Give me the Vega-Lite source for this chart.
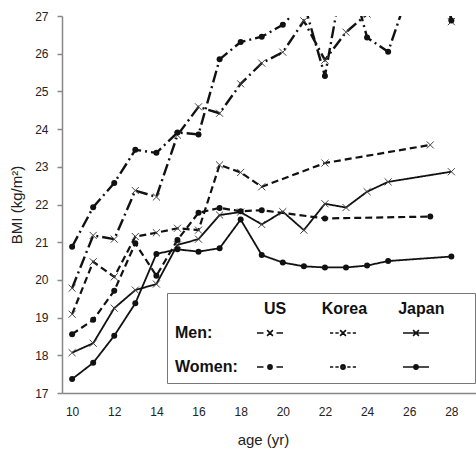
{
 "$schema": "https://vega.github.io/schema/vega-lite/v6.json",
 "autosize": "none",
 "padding": {"left": 62, "top": 16, "right": 0, "bottom": 61},
 "width": 414,
 "height": 377,
 "background": "white",
 "config": {"font": "Liberation Sans", "view": {"stroke": null}},
 "data": {"values": [
  {"age":10,"bmi":19.78,"series":"US Men","country":"US","sex":"Men"},
  {"age":11,"bmi":21.18,"series":"US Men","country":"US","sex":"Men"},
  {"age":12,"bmi":21.08,"series":"US Men","country":"US","sex":"Men"},
  {"age":13,"bmi":22.37,"series":"US Men","country":"US","sex":"Men"},
  {"age":14,"bmi":22.2,"series":"US Men","country":"US","sex":"Men"},
  {"age":15,"bmi":23.84,"series":"US Men","country":"US","sex":"Men"},
  {"age":16,"bmi":24.59,"series":"US Men","country":"US","sex":"Men"},
  {"age":17,"bmi":24.42,"series":"US Men","country":"US","sex":"Men"},
  {"age":18,"bmi":25.2,"series":"US Men","country":"US","sex":"Men"},
  {"age":19,"bmi":25.75,"series":"US Men","country":"US","sex":"Men"},
  {"age":20,"bmi":26.04,"series":"US Men","country":"US","sex":"Men"},
  {"age":21,"bmi":26.87,"series":"US Men","country":"US","sex":"Men"},
  {"age":22,"bmi":25.83,"series":"US Men","country":"US","sex":"Men"},
  {"age":23,"bmi":26.57,"series":"US Men","country":"US","sex":"Men"},
  {"age":24,"bmi":27.05,"series":"US Men","country":"US","sex":"Men"},
  {"age":25,"bmi":27.6,"series":"US Men","country":"US","sex":"Men"},
  {"age":26,"bmi":28.0,"series":"US Men","country":"US","sex":"Men"},
  {"age":27,"bmi":30.5,"series":"US Men","country":"US","sex":"Men"},
  {"age":28,"bmi":26.85,"series":"US Men","country":"US","sex":"Men"},
  {"age":10,"bmi":20.88,"series":"US Women","country":"US","sex":"Women"},
  {"age":11,"bmi":21.93,"series":"US Women","country":"US","sex":"Women"},
  {"age":12,"bmi":22.57,"series":"US Women","country":"US","sex":"Women"},
  {"age":13,"bmi":23.45,"series":"US Women","country":"US","sex":"Women"},
  {"age":14,"bmi":23.37,"series":"US Women","country":"US","sex":"Women"},
  {"age":15,"bmi":23.91,"series":"US Women","country":"US","sex":"Women"},
  {"age":16,"bmi":23.86,"series":"US Women","country":"US","sex":"Women"},
  {"age":17,"bmi":25.85,"series":"US Women","country":"US","sex":"Women"},
  {"age":18,"bmi":26.31,"series":"US Women","country":"US","sex":"Women"},
  {"age":19,"bmi":26.45,"series":"US Women","country":"US","sex":"Women"},
  {"age":20,"bmi":26.77,"series":"US Women","country":"US","sex":"Women"},
  {"age":21,"bmi":27.35,"series":"US Women","country":"US","sex":"Women"},
  {"age":22,"bmi":25.41,"series":"US Women","country":"US","sex":"Women"},
  {"age":23,"bmi":28.5,"series":"US Women","country":"US","sex":"Women"},
  {"age":24,"bmi":26.43,"series":"US Women","country":"US","sex":"Women"},
  {"age":25,"bmi":26.05,"series":"US Women","country":"US","sex":"Women"},
  {"age":26,"bmi":27.7,"series":"US Women","country":"US","sex":"Women"},
  {"age":27,"bmi":31.0,"series":"US Women","country":"US","sex":"Women"},
  {"age":28,"bmi":26.88,"series":"US Women","country":"US","sex":"Women"},
  {"age":10,"bmi":19.09,"series":"Korea Men","country":"Korea","sex":"Men"},
  {"age":11,"bmi":20.48,"series":"Korea Men","country":"Korea","sex":"Men"},
  {"age":12,"bmi":20.08,"series":"Korea Men","country":"Korea","sex":"Men"},
  {"age":13,"bmi":21.15,"series":"Korea Men","country":"Korea","sex":"Men"},
  {"age":14,"bmi":21.25,"series":"Korea Men","country":"Korea","sex":"Men"},
  {"age":15,"bmi":21.37,"series":"Korea Men","country":"Korea","sex":"Men"},
  {"age":16,"bmi":21.32,"series":"Korea Men","country":"Korea","sex":"Men"},
  {"age":17,"bmi":23.05,"series":"Korea Men","country":"Korea","sex":"Men"},
  {"age":18,"bmi":22.85,"series":"Korea Men","country":"Korea","sex":"Men"},
  {"age":19,"bmi":22.47,"series":"Korea Men","country":"Korea","sex":"Men"},
  {"age":22,"bmi":23.1,"series":"Korea Men","country":"Korea","sex":"Men"},
  {"age":27,"bmi":23.58,"series":"Korea Men","country":"Korea","sex":"Men"},
  {"age":10,"bmi":18.56,"series":"Korea Women","country":"Korea","sex":"Women"},
  {"age":11,"bmi":18.94,"series":"Korea Women","country":"Korea","sex":"Women"},
  {"age":12,"bmi":19.71,"series":"Korea Women","country":"Korea","sex":"Women"},
  {"age":13,"bmi":20.97,"series":"Korea Women","country":"Korea","sex":"Women"},
  {"age":14,"bmi":20.11,"series":"Korea Women","country":"Korea","sex":"Women"},
  {"age":15,"bmi":21.06,"series":"Korea Women","country":"Korea","sex":"Women"},
  {"age":16,"bmi":21.78,"series":"Korea Women","country":"Korea","sex":"Women"},
  {"age":17,"bmi":21.91,"series":"Korea Women","country":"Korea","sex":"Women"},
  {"age":18,"bmi":21.82,"series":"Korea Women","country":"Korea","sex":"Women"},
  {"age":19,"bmi":21.85,"series":"Korea Women","country":"Korea","sex":"Women"},
  {"age":22,"bmi":21.63,"series":"Korea Women","country":"Korea","sex":"Women"},
  {"age":27,"bmi":21.68,"series":"Korea Women","country":"Korea","sex":"Women"},
  {"age":10,"bmi":18.07,"series":"Japan Men","country":"Japan","sex":"Men"},
  {"age":11,"bmi":18.32,"series":"Japan Men","country":"Japan","sex":"Men"},
  {"age":12,"bmi":19.25,"series":"Japan Men","country":"Japan","sex":"Men"},
  {"age":13,"bmi":19.73,"series":"Japan Men","country":"Japan","sex":"Men"},
  {"age":14,"bmi":19.89,"series":"Japan Men","country":"Japan","sex":"Men"},
  {"age":15,"bmi":20.93,"series":"Japan Men","country":"Japan","sex":"Men"},
  {"age":16,"bmi":21.08,"series":"Japan Men","country":"Japan","sex":"Men"},
  {"age":17,"bmi":21.72,"series":"Japan Men","country":"Japan","sex":"Men"},
  {"age":18,"bmi":21.8,"series":"Japan Men","country":"Japan","sex":"Men"},
  {"age":19,"bmi":21.47,"series":"Japan Men","country":"Japan","sex":"Men"},
  {"age":20,"bmi":21.81,"series":"Japan Men","country":"Japan","sex":"Men"},
  {"age":21,"bmi":21.32,"series":"Japan Men","country":"Japan","sex":"Men"},
  {"age":22,"bmi":22.02,"series":"Japan Men","country":"Japan","sex":"Men"},
  {"age":23,"bmi":21.92,"series":"Japan Men","country":"Japan","sex":"Men"},
  {"age":24,"bmi":22.34,"series":"Japan Men","country":"Japan","sex":"Men"},
  {"age":25,"bmi":22.6,"series":"Japan Men","country":"Japan","sex":"Men"},
  {"age":28,"bmi":22.87,"series":"Japan Men","country":"Japan","sex":"Men"},
  {"age":10,"bmi":17.37,"series":"Japan Women","country":"Japan","sex":"Women"},
  {"age":11,"bmi":17.8,"series":"Japan Women","country":"Japan","sex":"Women"},
  {"age":12,"bmi":18.52,"series":"Japan Women","country":"Japan","sex":"Women"},
  {"age":13,"bmi":19.38,"series":"Japan Women","country":"Japan","sex":"Women"},
  {"age":14,"bmi":20.69,"series":"Japan Women","country":"Japan","sex":"Women"},
  {"age":15,"bmi":20.81,"series":"Japan Women","country":"Japan","sex":"Women"},
  {"age":16,"bmi":20.75,"series":"Japan Women","country":"Japan","sex":"Women"},
  {"age":17,"bmi":20.84,"series":"Japan Women","country":"Japan","sex":"Women"},
  {"age":18,"bmi":21.6,"series":"Japan Women","country":"Japan","sex":"Women"},
  {"age":19,"bmi":20.66,"series":"Japan Women","country":"Japan","sex":"Women"},
  {"age":20,"bmi":20.46,"series":"Japan Women","country":"Japan","sex":"Women"},
  {"age":21,"bmi":20.36,"series":"Japan Women","country":"Japan","sex":"Women"},
  {"age":22,"bmi":20.33,"series":"Japan Women","country":"Japan","sex":"Women"},
  {"age":23,"bmi":20.33,"series":"Japan Women","country":"Japan","sex":"Women"},
  {"age":24,"bmi":20.38,"series":"Japan Women","country":"Japan","sex":"Women"},
  {"age":25,"bmi":20.5,"series":"Japan Women","country":"Japan","sex":"Women"},
  {"age":28,"bmi":20.62,"series":"Japan Women","country":"Japan","sex":"Women"}
 ]},
 "encoding": {
  "x": {"field": "age", "type": "quantitative",
   "scale": {"domain": [9.52, 29.17], "nice": false, "zero": false},
   "axis": {"values": [10,12,14,16,18,20,22,24,26,28], "ticks": false, "tickSize": 0, "grid": false,
    "domainColor": "#888", "domainWidth": 1.5, "labelFontSize": 12, "labelColor": "#222", "labelPadding": 13,
    "title": "age (yr)", "titleFontSize": 15, "titleFontWeight": "normal", "titleColor": "#222", "titlePadding": 15, "titleX": 201}},
  "y": {"field": "bmi", "type": "quantitative",
   "scale": {"domain": [17, 27], "nice": false, "zero": false},
   "axis": {"values": [17,18,19,20,21,22,23,24,25,26,27], "format": "d", "tickSize": 5, "tickColor": "#888", "tickWidth": 1.5,
    "domainColor": "#888", "domainWidth": 1.5, "labelFontSize": 12, "labelColor": "#222", "labelPadding": 9, "grid": false,
    "title": "BMI (kg/m²)", "titleFontSize": 15, "titleFontWeight": "normal", "titleColor": "#222", "titlePadding": 10}}
 },
 "layer": [
  {"mark": {"type": "line", "clip": true, "color": "#111"},
   "encoding": {
    "strokeDash": {"field": "series", "type": "nominal",
     "scale": {"domain": ["US Men", "Korea Men", "Japan Men", "US Women", "Korea Women", "Japan Women"],
      "range": [[12,4,2,4], [7,4], [1,0], [12,4,2,4], [7,4], [1,0]]},
     "legend": null},
    "strokeWidth": {"field": "country", "type": "ordinal",
     "scale": {"type": "ordinal", "domain": ["US", "Korea", "Japan"], "range": [2.4, 2.2, 1.8]}, "legend": null}
   }},
  {"transform": [{"filter": "datum.sex == 'Men'"}],
   "mark": {"type": "point", "clip": true, "shape": "M-1,-1L1,1M-1,1L1,-1", "size": 50, "filled": false, "color": "#444", "strokeWidth": 1, "opacity": 1}},
  {"transform": [{"filter": "datum.sex == 'Women'"}],
   "mark": {"type": "point", "clip": true, "shape": "circle", "size": 36, "filled": true, "color": "#111", "opacity": 1}},
  {"transform": [{"filter": "false"}],
   "mark": {"type": "point", "filled": false, "color": "#111", "opacity": 1, "strokeWidth": 1.6},
   "encoding": {
    "shape": {"field": "series", "type": "nominal",
     "scale": {"domain": ["Men:", "US Men", "Korea Men", "Japan Men", "Women:", "US Women", "Korea Women", "Japan Women"],
      "range": [
       "M0,0",
       "M-6.5,0L-3.25,0M3.25,0L6.5,0M-1.45,-1.45L1.45,1.45M-1.45,1.45L1.45,-1.45",
       "M-6.5,0L-4.9,0M-3.8,0L-2.15,0M2.15,0L3.8,0M4.9,0L6.5,0M-1.45,-1.45L1.45,1.45M-1.45,1.45L1.45,-1.45",
       "M-6.5,0L6.5,0M-1.45,-1.45L1.45,1.45M-1.45,1.45L1.45,-1.45",
       "M0,0",
       "M-6.5,0L-3.25,0M3.25,0L6.5,0M0.25,0A0.25,0.25,0,1,1,-0.25,0A0.25,0.25,0,1,1,0.25,0ZM0.65,0A0.65,0.65,0,1,1,-0.65,0A0.65,0.65,0,1,1,0.65,0ZM1.05,0A1.05,1.05,0,1,1,-1.05,0A1.05,1.05,0,1,1,1.05,0Z",
       "M-6.5,0L-4.9,0M-3.8,0L-2.15,0M2.15,0L3.8,0M4.9,0L6.5,0M0.25,0A0.25,0.25,0,1,1,-0.25,0A0.25,0.25,0,1,1,0.25,0ZM0.65,0A0.65,0.65,0,1,1,-0.65,0A0.65,0.65,0,1,1,0.65,0ZM1.05,0A1.05,1.05,0,1,1,-1.05,0A1.05,1.05,0,1,1,1.05,0Z",
       "M-6.5,0L6.5,0M0.25,0A0.25,0.25,0,1,1,-0.25,0A0.25,0.25,0,1,1,0.25,0ZM0.65,0A0.65,0.65,0,1,1,-0.65,0A0.65,0.65,0,1,1,0.65,0ZM1.05,0A1.05,1.05,0,1,1,-1.05,0A1.05,1.05,0,1,1,1.05,0Z"
      ]},
     "legend": {
      "orient": "none", "legendX": 105, "legendY": 277, "columns": 4, "direction": "horizontal",
      "title": "\u200b\u00a0\u00a0\u00a0\u00a0\u00a0\u00a0\u00a0\u00a0\u00a0\u00a0\u00a0\u00a0\u00a0\u00a0\u00a0\u00a0\u00a0\u00a0\u00a0\u00a0US\u00a0\u00a0\u00a0\u00a0\u00a0\u00a0\u00a0\u00a0Korea\u00a0\u00a0\u00a0\u00a0\u00a0\u00a0\u00a0Japan\u00a0\u00a0\u00a0\u00a0\u00a0\u200b",
      "titleFontSize": 16, "titleFontWeight": "bold", "titleColor": "#111", "titleLimit": 600, "titlePadding": 8,
      "labelFontSize": 16, "labelFontWeight": "bold", "labelColor": "#111", "labelOffset": -16,
      "labelExpr": "datum.value == 'Men:' || datum.value == 'Women:' ? datum.value : '\u200b\u00a0\u00a0\u00a0\u00a0\u00a0\u00a0\u00a0\u00a0\u00a0\u00a0\u00a0\u200b'",
      "symbolSize": 16, "symbolStrokeWidth": 1.6, "symbolOffset": 0,
      "symbolStrokeColor": "#111", "symbolOpacity": 1,
      "columnPadding": 15, "rowPadding": 18, "padding": 8,
      "fillColor": "white", "strokeColor": "#777"
     }}
   }}
 ]
}
